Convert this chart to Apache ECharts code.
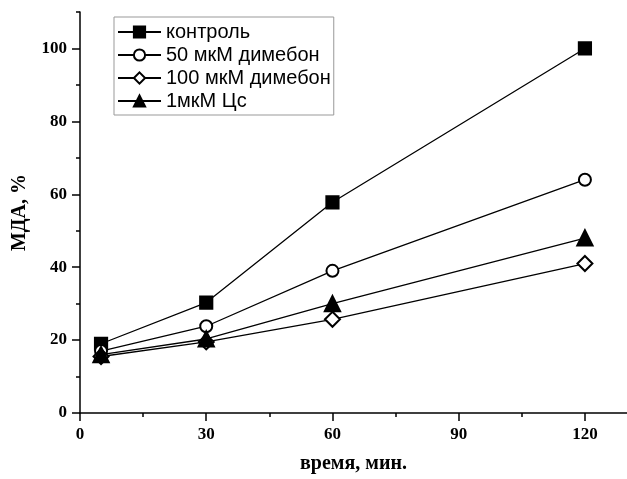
<!DOCTYPE html>
<html><head><meta charset="utf-8">
<script src="https://cdn.jsdelivr.net/npm/echarts@6/dist/echarts.min.js"></script>
<style>html,body{margin:0;padding:0;background:#fff}#c{width:627px;height:479px}</style>
</head><body><div id="c"></div>
<script>
const times = [5, 30, 60, 120];
const control = [19, 30.3, 57.8, 100];
const dimebon50 = [17, 23.8, 39, 64];
const dimebon100 = [15.5, 19.5, 25.7, 41];
const cs1 = [16, 20.3, 30, 48];
const seriesNames = ['контроль', '50 мкМ димебон', '100 мкМ димебон', '1мкМ Цс'];
const xMajorTicks = [0, 30, 60, 90, 120];
const xMinorTicks = [15, 45, 75, 105];
const yMajorTicks = [0, 20, 40, 60, 80, 100];
const yMinorTicks = [10, 30, 50, 70, 90, 110];
const xName = 'время, мин.';
const yName = 'МДА, %';

const pairs = arr => times.map((t, i) => [t, arr[i]]);
const serif = '"Liberation Serif", "DejaVu Serif", serif';
const sans = '"Liberation Sans", Arial, sans-serif';
const axisLine = { show: true, lineStyle: { color: '#000', width: 1.5 } };

const chart = echarts.init(document.getElementById('c'), null, { renderer: 'canvas' });
const mk = (name, data, symbol, size, extra) => Object.assign({
  name, type: 'line', data: pairs(data), xAxisIndex: 0, yAxisIndex: 0,
  symbol, symbolSize: size, showSymbol: true,
  lineStyle: { color: '#000', width: 1.3 },
  itemStyle: { color: '#000', borderColor: '#000', borderWidth: 2.2 },
  emphasis: { disabled: true }, animation: false
}, extra || {});

chart.setOption({
  backgroundColor: '#fff',
  animation: false,
  grid: { left: 80, top: 12, right: -2, bottom: 65, containLabel: false },
  legend: {
    orient: 'vertical', left: 114, top: 17,
    data: seriesNames,
    itemWidth: 43, itemHeight: 14, itemGap: 3,
    padding: [5, 3, 4, 3],
    borderColor: '#999', borderWidth: 1,
    textStyle: { fontFamily: sans, fontSize: 20, color: '#000', lineHeight: 20 },
    selectedMode: false
  },
  xAxis: [
    {
      type: 'value', min: 0, max: 130, position: 'bottom',
      name: xName, nameLocation: 'middle', nameGap: 41,
      nameTextStyle: { fontFamily: serif, fontWeight: 'bold', fontSize: 20, color: '#000' },
      axisLine, splitLine: { show: false },
      axisTick: { show: true, length: 8, lineStyle: { color: '#000', width: 1.5 }, customValues: xMajorTicks },
      axisLabel: { fontFamily: serif, fontWeight: 'bold', fontSize: 17, color: '#000', margin: 13, customValues: xMajorTicks }
    },
    {
      type: 'value', min: 0, max: 130, position: 'bottom', offset: 0,
      axisLine: { show: false }, splitLine: { show: false },
      axisTick: { show: true, length: 4, lineStyle: { color: '#000', width: 1.5 }, customValues: xMinorTicks },
      axisLabel: { show: false }
    }
  ],
  yAxis: [
    {
      type: 'value', min: 0, max: 110, position: 'left',
      name: yName, nameLocation: 'middle', nameGap: 50,
      nameTextStyle: { fontFamily: serif, fontWeight: 'bold', fontSize: 20, color: '#000' },
      axisLine, splitLine: { show: false },
      axisTick: { show: true, length: 8, lineStyle: { color: '#000', width: 1.5 }, customValues: yMajorTicks },
      axisLabel: { fontFamily: serif, fontWeight: 'bold', fontSize: 17, color: '#000', margin: 13, customValues: yMajorTicks }
    },
    {
      type: 'value', min: 0, max: 110, position: 'left', offset: 0,
      axisLine: { show: false }, splitLine: { show: false },
      axisTick: { show: true, length: 4, lineStyle: { color: '#000', width: 1.5 }, customValues: yMinorTicks },
      axisLabel: { show: false }
    }
  ],
  series: [
    mk(seriesNames[0], control, 'rect', 12),
    mk(seriesNames[1], dimebon50, 'emptyCircle', 12),
    mk(seriesNames[2], dimebon100, 'emptyDiamond', 15),
    mk(seriesNames[3], cs1, 'triangle', 15)
  ]
});
</script></body></html>
